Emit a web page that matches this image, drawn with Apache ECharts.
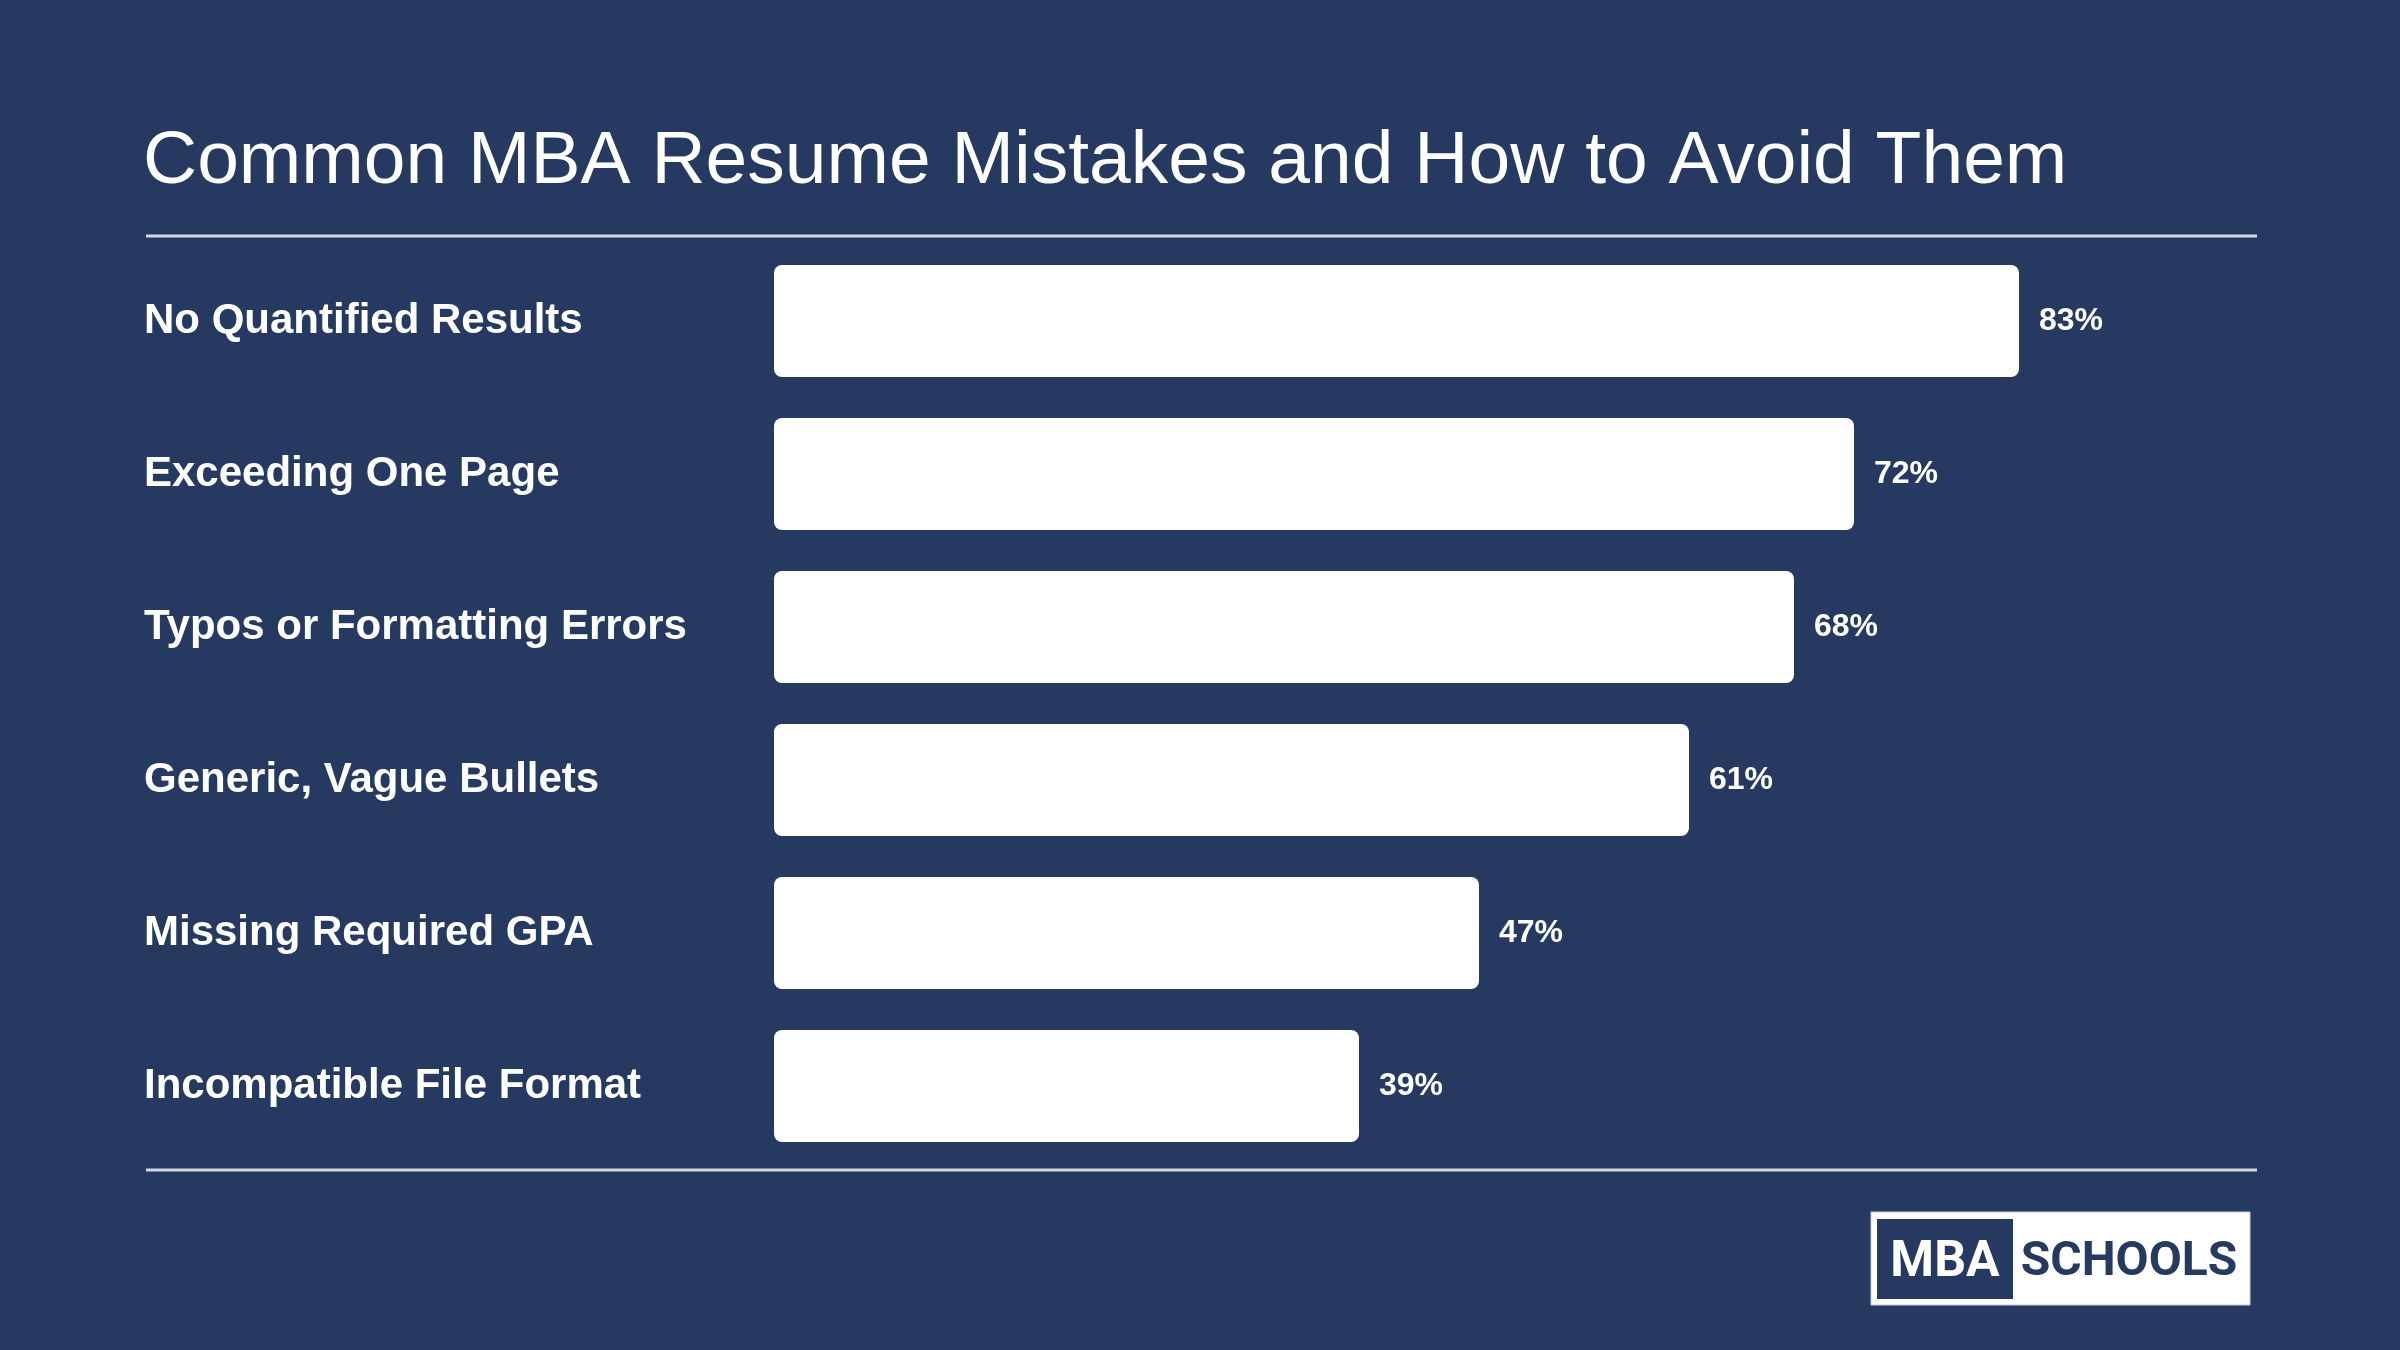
<!DOCTYPE html>
<html>
<head>
<meta charset="utf-8">
<script src="https://cdn.jsdelivr.net/npm/echarts@6/dist/echarts.min.js"></script>
<style>
html,body{margin:0;padding:0;background:#253961;}
#chart{width:2400px;height:1350px;}
</style>
</head>
<body>
<div id="chart"></div>
<script>
const titleText = 'Common MBA Resume Mistakes and How to Avoid Them';
const categories = [
  'No Quantified Results',
  'Exceeding One Page',
  'Typos or Formatting Errors',
  'Generic, Vague Bullets',
  'Missing Required GPA',
  'Incompatible File Format'
];
const values = [83, 72, 68, 61, 47, 39];

const BG = '#253961';
const chart = echarts.init(document.getElementById('chart'));
chart.setOption({
  backgroundColor: BG,
  animation: false,
  grid: { left: 774, top: 244.5, width: 1500, height: 918, containLabel: false },
  xAxis: {
    type: 'value', min: 0, max: 100,
    show: false
  },
  yAxis: {
    type: 'category',
    data: categories,
    inverse: true,
    axisLine: { show: false },
    axisTick: { show: false },
    splitLine: { show: false },
    axisLabel: {
      align: 'left',
      margin: 630,
      padding: [12, 0, 0, 0],
      color: '#ffffff',
      fontFamily: 'Liberation Sans, Arial, sans-serif',
      fontWeight: 'bold',
      fontSize: 42
    }
  },
  series: [{
    type: 'bar',
    data: values,
    barCategoryGap: '26.8%',
    itemStyle: { color: '#ffffff', borderRadius: 8 },
    label: {
      show: true,
      position: 'right',
      distance: 20,
      padding: [10, 0, 0, 0],
      formatter: '{c}%',
      color: '#ffffff',
      fontFamily: 'Liberation Sans, Arial, sans-serif',
      fontWeight: 'bold',
      fontSize: 32
    }
  }],
  graphic: [
    {
      type: 'text', left: 143, top: 125,
      style: {
        text: titleText, fill: '#ffffff',
        font: '75px "Liberation Sans", Arial, sans-serif'
      }
    },
    {
      type: 'line', shape: { x1: 146, y1: 236, x2: 2257, y2: 236 },
      style: { stroke: '#d3d8e2', lineWidth: 3 }
    },
    {
      type: 'line', shape: { x1: 146, y1: 1170, x2: 2257, y2: 1170 },
      style: { stroke: '#d3d8e2', lineWidth: 3 }
    },
    {
      type: 'rect', shape: { x: 1871, y: 1212, width: 379, height: 93 },
      style: { fill: '#ffffff', stroke: '#c8cdd8', lineWidth: 1 }
    },
    {
      type: 'rect', shape: { x: 1877, y: 1219, width: 136, height: 80 },
      style: { fill: BG }
    },
    {
      type: 'text', x: 1945, y: 1263,
      style: {
        text: 'MBA', fill: '#ffffff', align: 'center', verticalAlign: 'middle',
        font: 'bold 50px Roboto, "Liberation Sans", sans-serif'
      }
    },
    {
      type: 'text', x: 2129, y: 1263,
      style: {
        text: 'SCHOOLS', fill: BG, align: 'center', verticalAlign: 'middle',
        font: 'bold 48px Roboto, "Liberation Sans", sans-serif'
      }
    }
  ]
});
</script>
</body>
</html>
